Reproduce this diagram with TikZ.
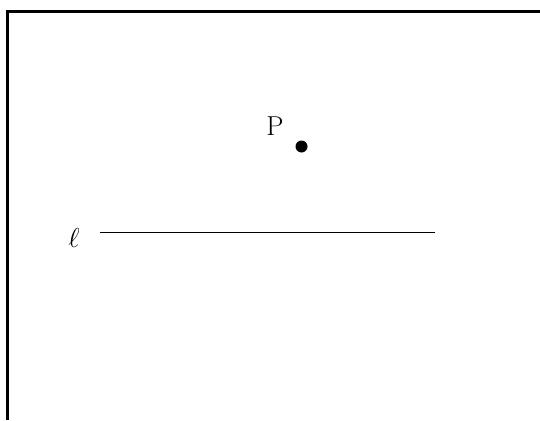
\documentclass[tikz,border=0pt]{standalone}
\begin{document}
\begin{tikzpicture}[x=1pt,y=-1pt,
  lbl/.style={font=\Huge, inner sep=0pt}]
\useasboundingbox (0,0) rectangle (540,420);
\coordinate (fa) at (7.5,420);
\coordinate (fb) at (7.5,11.5);
\coordinate (fc) at (540,11.5);
\draw[line width=3pt] (fa) -- (fb) -- (fc);
\node[lbl, anchor=base] (P) at (275,135) {\scalebox{1.1}{P}};
\fill (301.5,146.5) circle (6);
\node (dot) at (301.5,146.5) {};
\node[lbl, anchor=base] (ell) at (74,247) {\scalebox{1.1}{$\ell$}};
\coordinate (la) at (100,232.7);
\coordinate (lb) at (435,232.7);
\draw[line width=1.3pt] (la) -- (lb);
\end{tikzpicture}
\end{document}
